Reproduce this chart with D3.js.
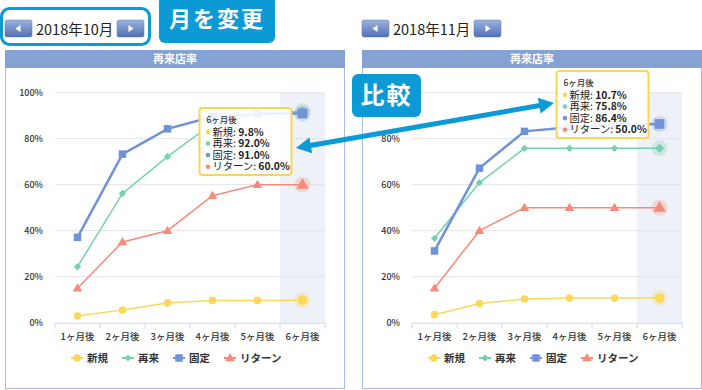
<!DOCTYPE html>
<html lang="ja">
<head>
    <meta charset="UTF-8">
    <script src="https://d3js.org/d3.v7.min.js"></script>
    <style>
        body { margin: 0; background: #fff; font-family: "Noto Sans CJK JP", "Noto Sans", sans-serif; }
        svg { display: block; }
    </style>
</head>
<body>
<svg id="chart" width="702" height="390"></svg>
<script>
    // データ
    const months = ["2018年10月", "2018年11月"];
    const categories = ["1ヶ月後", "2ヶ月後", "3ヶ月後", "4ヶ月後", "5ヶ月後", "6ヶ月後"];
    const seriesNames = ["新規", "再来", "固定", "リターン"];
    const yTicks = [0, 20, 40, 60, 80, 100];

    const octShinki = [2.9, 5.5, 8.6, 9.7, 9.7, 9.8];
    const octSairai = [24.3, 56.2, 72.2, 86.5, 90.5, 92.0];
    const octKotei = [37.1, 73.3, 84.3, 89.5, 90.8, 91.0];
    const octReturn = [15.0, 35.1, 40.0, 55.2, 60.0, 60.0];

    const novShinki = [3.5, 8.3, 10.3, 10.7, 10.7, 10.7];
    const novSairai = [36.7, 60.9, 75.8, 75.8, 75.8, 75.8];
    const novKotei = [31.2, 67.2, 83.2, 85.0, 86.0, 86.4];
    const novReturn = [15.0, 40.0, 50.0, 50.0, 50.0, 50.0];

    const colors = ["#f9d95b", "#74d1ab", "#6f93d6", "#f48c7c"];
    const lineWidths = [1.5, 1.5, 2.5, 1.5];
    const blue = "#0b9ad6";

    const svg = d3.select("#chart");
    const defs = svg.append("defs");

    const grad = defs.append("linearGradient").attr("id", "btn").attr("x1", 0).attr("x2", 0).attr("y1", 0).attr("y2", 1);
    grad.append("stop").attr("offset", "0%").attr("stop-color", "#9db3de");
    grad.append("stop").attr("offset", "100%").attr("stop-color", "#4f70b4");

    // マーカー形状
    function marker(sel, i, big) {
        const k = big ? 1.3 : 1;
        if (i === 0) {
            sel.append("circle").attr("r", 3.8 * k).attr("fill", colors[i]);
        } else if (i === 1) {
            sel.append("path").attr("d", d3.symbol(d3.symbolSquare, 26 * k * k)())
                .attr("transform", "rotate(45)").attr("fill", colors[i]);
        } else if (i === 2) {
            sel.append("path").attr("d", d3.symbol(d3.symbolSquare, 56 * k * k)()).attr("fill", colors[i]);
        } else {
            sel.append("path").attr("d", d3.symbol(d3.symbolTriangle, 40 * k * k)())
                .attr("transform", "translate(0,0.5)").attr("fill", colors[i]);
        }
    }

    function navBar(x, label) {
        const g = svg.append("g").attr("transform", `translate(${x},20)`);
        [0, 112].forEach((bx, j) => {
            g.append("rect").attr("x", bx).attr("y", 0).attr("width", 27).attr("height", 17)
                .attr("rx", 2).attr("fill", "url(#btn)").attr("stroke", "#5d79b5").attr("stroke-width", 0.5);
            const cx = bx + 13.5, cy = 8.5;
            const pts = j === 0 ? [[cx - 3, cy], [cx + 2, cy - 3.5], [cx + 2, cy + 3.5]]
                                : [[cx + 3, cy], [cx - 2, cy - 3.5], [cx - 2, cy + 3.5]];
            g.append("polygon").attr("points", pts.map(p => p.join(",")).join(" ")).attr("fill", "#fff");
        });
        g.append("text").attr("x", 31).attr("y", 14.5).attr("font-size", 14.5).attr("fill", "#222")
            .text(label);
    }

    function drawChart(px, month, data, tipTop) {
        navBar(px, month);
        const g = svg.append("g");
        const pw = 340;

        // パネル
        g.append("rect").attr("x", px + 0.5).attr("y", 50.5).attr("width", pw - 1).attr("height", 338)
            .attr("fill", "#fff").attr("stroke", "#a9bde3");
        g.append("rect").attr("x", px).attr("y", 50).attr("width", pw).attr("height", 18).attr("fill", "#86a2d3");
        g.append("text").attr("x", px + pw / 2).attr("y", 63).attr("text-anchor", "middle")
            .attr("font-size", 11).attr("font-weight", "bold").attr("fill", "#fff").text("再来店率");

        const left = px + 50, right = px + 320;
        const x = d3.scaleBand().domain(categories).range([left, right]);
        const y = d3.scaleLinear().domain([0, 100]).range([322.7, 92.7]);
        const cx = c => x(c) + x.bandwidth() / 2;

        // ホバー中の帯
        g.append("rect").attr("x", x(categories[5])).attr("y", y(100))
            .attr("width", x.bandwidth()).attr("height", y(0) - y(100)).attr("fill", "#eef1f7");

        // グリッド
        g.selectAll(".grid").data(yTicks.filter(t => t > 0)).enter().append("line")
            .attr("x1", left).attr("x2", right).attr("y1", d => y(d)).attr("y2", d => y(d))
            .attr("stroke", "#e3e3e3").attr("stroke-width", 1);
        g.selectAll(".ylab").data(yTicks).enter().append("text")
            .attr("x", left - 12).attr("y", d => y(d) + 3.5).attr("text-anchor", "end")
            .attr("font-size", 9).attr("font-weight", 500).attr("fill", "#333").text(d => d + "%");

        // X軸
        const xa = g.append("g").attr("transform", `translate(0,${y(0)})`)
            .call(d3.axisBottom(x).tickSize(0).tickPadding(11));
        xa.select(".domain").attr("stroke", "#ccd6eb");
        xa.selectAll("text").attr("font-size", 9.5).attr("font-weight", 500).attr("fill", "#333")
            .attr("font-family", "'Noto Sans CJK JP', sans-serif");
        g.selectAll(".xtick").data(d3.range(categories.length + 1)).enter().append("line")
            .attr("x1", d => left + d * x.bandwidth()).attr("x2", d => left + d * x.bandwidth())
            .attr("y1", y(0)).attr("y2", y(0) + 6).attr("stroke", "#ccd6eb");

        // 系列
        const line = d3.line().x((d, i) => cx(categories[i])).y(d => y(d));
        data.forEach((vals, i) => {
            g.append("path").attr("d", line(vals)).attr("fill", "none")
                .attr("stroke", colors[i]).attr("stroke-width", lineWidths[i]);
            vals.forEach((v, j) => {
                const m = g.append("g").attr("transform", `translate(${cx(categories[j])},${y(v)})`);
                if (j === 5) {
                    m.append("circle").attr("r", 8).attr("fill", colors[i]).attr("opacity", 0.25);
                    marker(m, i, true);
                } else {
                    marker(m, i, false);
                }
            });
        });

        // 凡例
        let lx = px + 72;
        seriesNames.forEach((name, i) => {
            const lg = g.append("g").attr("transform", `translate(${lx},358)`);
            lg.append("line").attr("x1", -6).attr("x2", 6).attr("stroke", colors[i]).attr("stroke-width", 2);
            marker(lg, i, false);
            const t = lg.append("text").attr("x", 10).attr("y", 4).attr("font-size", 10.5)
                .attr("font-weight", "bold").attr("fill", "#333").text(name);
            lx += 10 + t.node().getComputedTextLength() + 20;
        });

        // ツールチップ
        const tw = 92, th = 67;
        const tx = cx(categories[5]) - 11 - tw;
        const tg = svg.append("g").attr("transform", `translate(${tx},${tipTop})`);
        tg.append("rect").attr("x", 0).attr("y", 0).attr("width", tw).attr("height", th).attr("rx", 3)
            .attr("fill", "rgba(255,255,255,0.88)").attr("stroke", "#f7d65a").attr("stroke-width", 2);
        tg.append("text").attr("x", 7).attr("y", 15).attr("font-size", 8.5).attr("font-weight", 500)
            .attr("fill", "#333").text(categories[5]);
        seriesNames.forEach((name, i) => {
            const ry = 27.5 + i * 11.6;
            tg.append("circle").attr("cx", 8.5).attr("cy", ry - 3.6).attr("r", 2.3).attr("fill", colors[i]);
            const t = tg.append("text").attr("x", 13).attr("y", ry).attr("font-size", 10.3).attr("fill", "#222");
            t.append("tspan").text(name + ": ");
            t.append("tspan").attr("font-weight", "bold").text(data[i][5].toFixed(1) + "%");
        });
    }

    // 左: 10月
    drawChart(5, months[0], [octShinki, octSairai, octKotei, octReturn], 108);
    // 右: 11月
    drawChart(362, months[1], [novShinki, novSairai, novKotei, novReturn], 71);

    // 月変更の枠とラベル
    svg.append("rect").attr("x", 1.5).attr("y", 8.5).attr("width", 148).attr("height", 36).attr("rx", 8)
        .attr("fill", "none").attr("stroke", blue).attr("stroke-width", 3);

    function badge(x, y, w, h, label, fs) {
        svg.append("rect").attr("x", x).attr("y", y).attr("width", w).attr("height", h).attr("rx", 6).attr("fill", blue);
        svg.append("text").attr("x", x + w / 2).attr("y", y + h / 2 + fs * 0.36).attr("text-anchor", "middle")
            .attr("font-size", fs).attr("font-weight", "bold").attr("fill", "#fff")
            .attr("letter-spacing", 2).text(label);
    }
    badge(159, -4, 116, 47, "月を変更", 22);
    badge(352, 74, 69, 43, "比較", 24);

    // 比較の矢印
    const a = [296, 148], b = [554, 103];
    const ang = Math.atan2(b[1] - a[1], b[0] - a[0]);
    const hl = 15, hw = 8;
    const shrink = (p, dir) => [p[0] + dir * Math.cos(ang) * (hl - 2), p[1] + dir * Math.sin(ang) * (hl - 2)];
    const a2 = shrink(a, 1), b2 = shrink(b, -1);
    svg.append("line").attr("x1", a2[0]).attr("y1", a2[1]).attr("x2", b2[0]).attr("y2", b2[1])
        .attr("stroke", blue).attr("stroke-width", 5);
    function head(tip, dir) {
        const bx = tip[0] + dir * Math.cos(ang) * hl, by = tip[1] + dir * Math.sin(ang) * hl;
        const nx = -Math.sin(ang) * hw, ny = Math.cos(ang) * hw;
        svg.append("polygon").attr("fill", blue)
            .attr("points", [[tip[0], tip[1]], [bx + nx, by + ny], [bx - nx, by - ny]].map(p => p.join(",")).join(" "));
    }
    head(a, 1);
    head(b, -1);
</script>
</body>
</html>
